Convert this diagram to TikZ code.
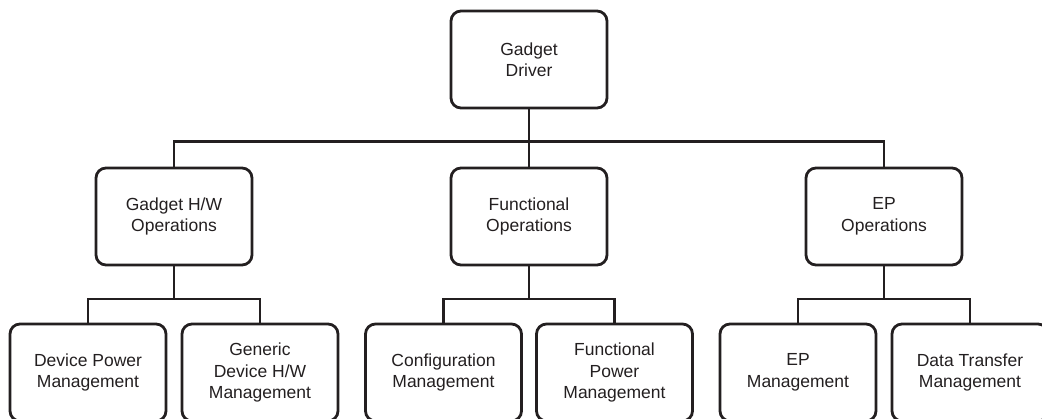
\documentclass[tikz,border=0pt]{standalone}
\usepackage{fontspec}
\setmainfont{Liberation Sans}
\definecolor{ink}{HTML}{231F20}
\begin{document}
\begin{tikzpicture}[x=1pt,y=-1pt,
  box/.style={draw=ink, line width=2.8pt, rounded corners=10pt, minimum width=156pt, minimum height=97pt,
    inner sep=0pt, align=center, text=ink, font=\fontsize{17.5}{21.5}\selectfont},
  link/.style={draw=ink, line width=2.8pt}]
\useasboundingbox (0,0) rectangle (1042,418);
\clip (0,0) rectangle (1042,418);
\node[box] (top) at (529,59.5) {Gadget\\Driver};
\node[box] (m1) at (174,216.5) {Gadget H/W\\Operations};
\node[box] (m2) at (529,216.5) {Functional\\Operations};
\node[box] (m3) at (884,216.5) {EP\\Operations};
\node[box] (b1) at (88,372.5) {Device Power\\Management};
\node[box] (b2) at (260,372.5) {Generic\\Device H/W\\Management};
\node[box] (b3) at (443.5,372.5) {Configuration\\Management};
\node[box] (b4) at (614.5,372.5) {Functional\\Power\\Management};
\node[box] (b5) at (798,372.5) {EP\\Management};
\node[box] (b6) at (970,372.5) {Data Transfer\\Management};
\coordinate (bus) at (529,141.5);
\coordinate (s1) at (174,299);
\coordinate (s2) at (529,299);
\coordinate (s3) at (884,299);
\draw[link] (top.south) -- (bus);
\draw[link] (m1.north) |- (bus) -| (m3.north);
\draw[link] (bus) -- (m2.north);
\draw[link] (m1.south) -- (s1);
\draw[link] (b1.north) |- (s1) -| (b2.north);
\draw[link] (m2.south) -- (s2);
\draw[link] (b3.north) |- (s2) -| (b4.north);
\draw[link] (m3.south) -- (s3);
\draw[link] (b5.north) |- (s3) -| (b6.north);
\end{tikzpicture}
\end{document}
